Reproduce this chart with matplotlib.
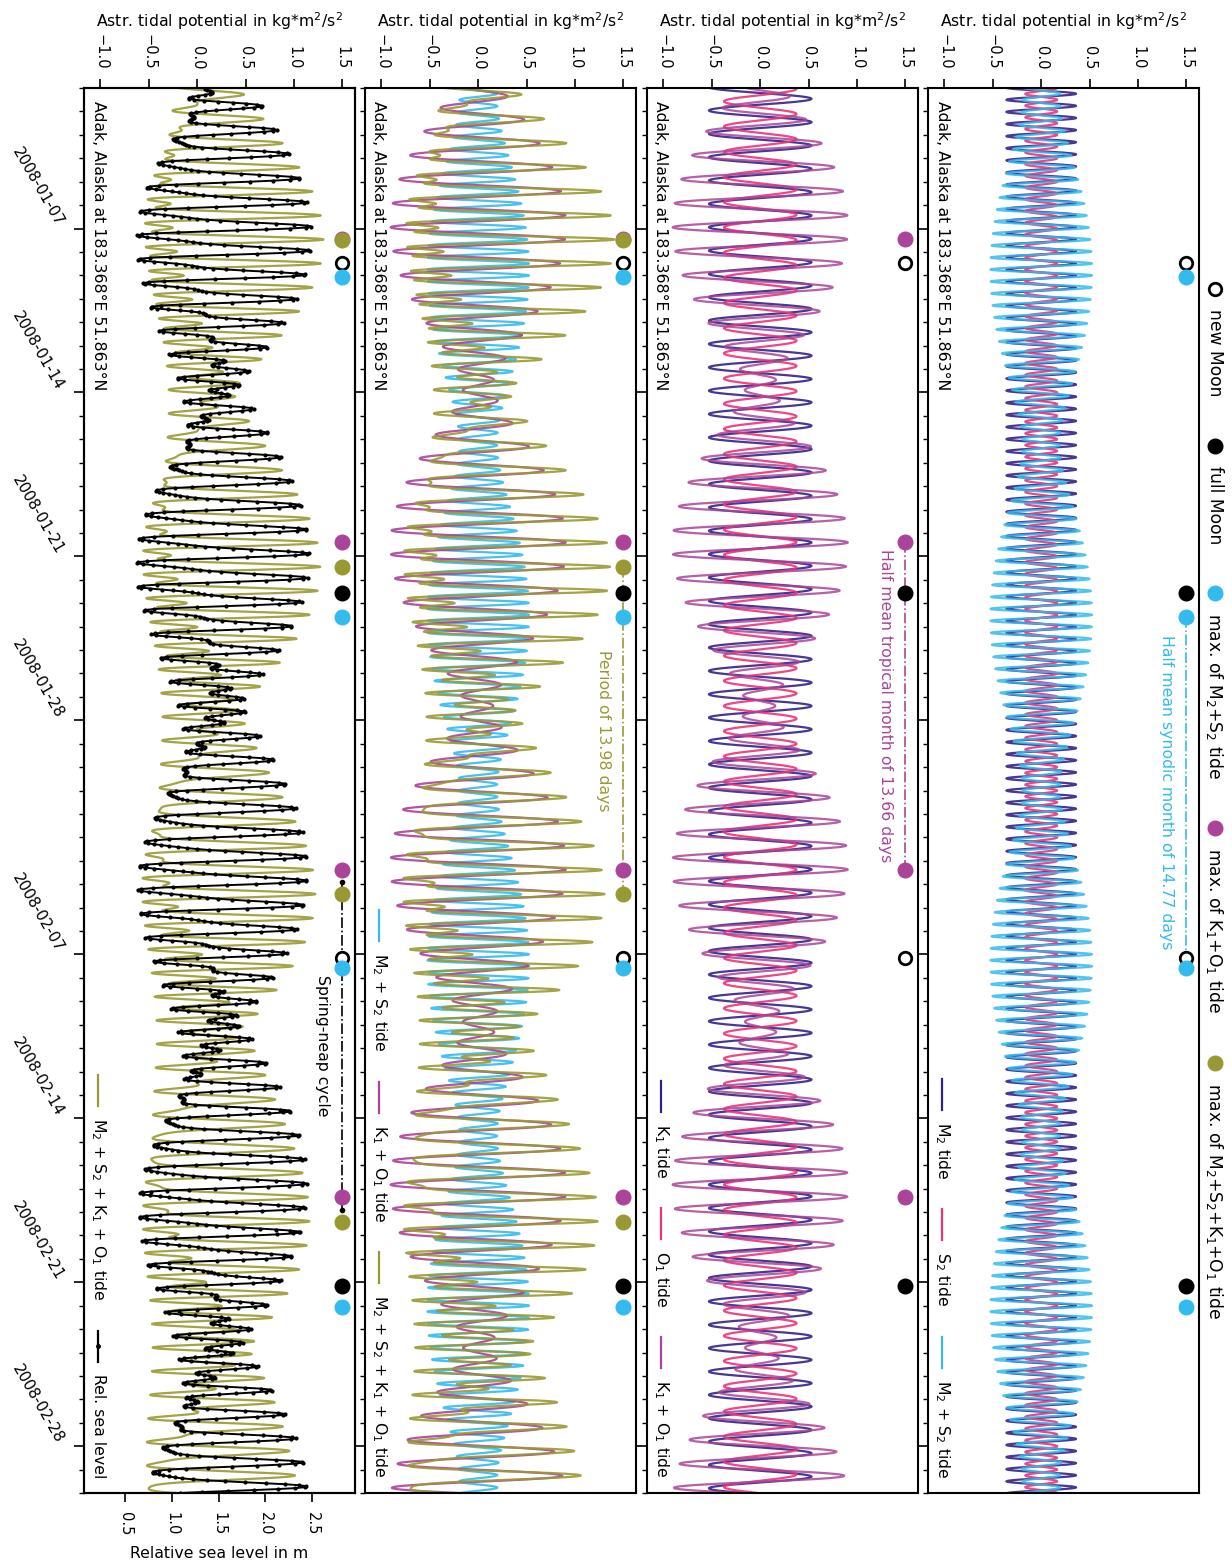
import numpy as np
import matplotlib
matplotlib.use('Agg')
import matplotlib.pyplot as plt
import matplotlib.dates as mdates

plt.rcParams['font.family'] = 'DejaVu Sans'
plt.rcParams['font.size'] = 11
plt.rcParams['axes.linewidth'] = 1.5

# partial tides of the astronomical potential at Adak, phase at 2008-01-01 00:00 UTC
tide_names = ['M2', 'S2', 'K1', 'O1']
tide_speed = [28.9841042, 30.0, 15.0410686, 13.9430356]   # deg/h
tide_amp = [0.36, 0.165, 0.53, 0.375]                     # kg*m^2/s^2
tide_phase = [189.3, -0.9, 193.4, 348.3]                  # deg

# tide gauge (hourly): mean level, amplitudes [m] and lags [deg] of the same tides
sea_mean = 1.47
sea_amp = [0.22, 0.05, 0.50, 0.34]
sea_lag = [0.0, 30.0, 155.0, 150.0]
# potential drawn against the sea level axis in the last panel
pot_on_sea_offset = 1.375
pot_on_sea_scale = 0.89

start = np.datetime64('2008-01-01T00:00')
end = np.datetime64('2008-03-01T00:00')

new_moon = ['2008-01-08T11:37', '2008-02-07T03:44']
full_moon = ['2008-01-22T13:35', '2008-02-21T03:30']
max_m2s2 = ['2008-01-09T01:26', '2008-01-23T13:41', '2008-02-07T13:41', '2008-02-22T01:00']
max_k1o1 = ['2008-01-07T10:48', '2008-01-20T09:22', '2008-02-03T09:22', '2008-02-17T08:10']
max_all = ['2008-01-07T11:45', '2008-01-21T10:48', '2008-02-04T10:19', '2008-02-18T10:05']
spring_neap = ['2008-02-03T21:36', '2008-02-17T21:36']

c_m2 = '#332288'
c_s2 = '#EE3377'
c_m2s2 = '#33BBEE'
c_k1o1 = '#AA4499'
c_all = '#999933'

station = 'Adak, Alaska at 183.368°E 51.863°N'
pot_label = 'Astr. tidal potential in kg*m$^2$/s$^2$'


def to_times(hours):
    return start + np.round(hours * 60).astype('int64').astype('timedelta64[m]')


def partial(h, i, amp=None, lag=0.0):
    a = tide_amp[i] if amp is None else amp
    return a * np.cos(np.radians(tide_speed[i] * h + tide_phase[i] - lag))


hours = np.arange(0, 60 * 24 + 1e-9, 1 / 6)
times = to_times(hours)
m2 = partial(hours, 0)
s2 = partial(hours, 1)
k1 = partial(hours, 2)
o1 = partial(hours, 3)
m2s2 = m2 + s2
k1o1 = k1 + o1
total = m2s2 + k1o1

sea_hours = np.arange(0, 60 * 24 + 1, 1.0)
sea_times = to_times(sea_hours)
sea = sea_mean + sum(partial(sea_hours, i, sea_amp[i], sea_lag[i]) for i in range(4))

W, H = 1232, 1562
fig = plt.figure(figsize=(W / 100, H / 100), dpi=100)
top_px, bot_px, wid_px = 88, 1493, 271
lefts = [928, 647, 365, 84]

axes = [fig.add_axes([lx / W, 1 - bot_px / H, wid_px / W, (bot_px - top_px) / H]) for lx in lefts]
ax1, ax2, ax3, ax4 = axes
ax4b = ax4.twiny()

for i, ax in enumerate(axes):
    ax.set_xlim(-1.17, 1.63)
    ax.set_ylim(end, start)
    ax.xaxis.tick_top()
    ax.xaxis.set_label_position('top')
    ax.set_xticks([-1.0, -0.5, 0.0, 0.5, 1.0, 1.5])
    ax.tick_params(axis='x', direction='out', length=6.5, width=1.2, pad=7, labelrotation=-90,
                   top=True, bottom=False, labelsize=10.5)
    ax.set_xlabel(pot_label, labelpad=5, fontsize=11.3)
    ax.yaxis.set_major_locator(mdates.DayLocator(bymonthday=[7, 14, 21, 28]))
    ax.yaxis.set_minor_locator(mdates.DayLocator())
    ax.tick_params(axis='y', which='major', direction='out', length=7, width=1.2, left=True, right=False)
    ax.tick_params(axis='y', which='minor', direction='out', length=3.5, width=1.0, left=True, right=False)
    if i < 3:
        ax.tick_params(axis='y', labelleft=False)

ax4.yaxis.set_major_formatter(mdates.DateFormatter('%Y-%m-%d'))
ax4.tick_params(axis='y', which='major', pad=6, labelsize=11)
for lab in ax4.get_yticklabels():
    lab.set_rotation(-60)
    lab.set_ha('right')
    lab.set_va('bottom')

ax4b.set_xlim(0.06, 2.96)
ax4b.xaxis.tick_bottom()
ax4b.xaxis.set_label_position('bottom')
ax4b.set_xticks([0.5, 1.0, 1.5, 2.0, 2.5])
ax4b.tick_params(axis='x', direction='out', length=6.5, width=1.2, pad=7, labelrotation=-90,
                 top=False, bottom=True, labelsize=10.5)
ax4b.set_xlabel('Relative sea level in m', labelpad=8, fontsize=11.3)

lw = 1.6
ax1.plot(m2, times, color=c_m2, lw=lw, alpha=0.9)
ax1.plot(s2, times, color=c_s2, lw=lw, alpha=0.9)
ax1.plot(m2s2, times, color=c_m2s2, lw=lw, alpha=0.85)

ax2.plot(k1, times, color=c_m2, lw=lw, alpha=0.9)
ax2.plot(o1, times, color=c_s2, lw=lw, alpha=0.9)
ax2.plot(k1o1, times, color=c_k1o1, lw=lw, alpha=0.85)

ax3.plot(m2s2, times, color=c_m2s2, lw=lw, alpha=0.9)
ax3.plot(k1o1, times, color=c_k1o1, lw=lw, alpha=0.9)
ax3.plot(total, times, color=c_all, lw=lw, alpha=0.9)

ax4b.plot(pot_on_sea_offset + pot_on_sea_scale * total, times, color=c_all, lw=lw, alpha=0.9)
ax4b.plot(sea, sea_times, color='k', lw=1.4, marker='.', ms=4)

mk_new = dict(marker='o', ls='none', mfc='white', mec='k', mew=2, ms=9)
mk_full = dict(marker='o', ls='none', color='k', ms=10.5)
mk_m2s2 = dict(marker='o', ls='none', color=c_m2s2, ms=10.5)
mk_k1o1 = dict(marker='o', ls='none', color=c_k1o1, ms=10.5)
mk_all = dict(marker='o', ls='none', color=c_all, ms=10.5)


def dates(lst):
    return np.array(lst, dtype='datetime64[m]')


def events(ax, groups):
    for lst, kw in groups:
        d = dates(lst)
        ax.plot(np.full(len(d), 1.5), d, zorder=5, **kw)


def period(ax, lst, color, label, dots=False):
    d = dates(lst)
    ax.plot([1.5, 1.5], d, color=color, ls='-.', lw=1.2, marker='.' if dots else None, ms=6, zorder=4)
    mid = d[0] + (d[1] - d[0]) / 2
    ax.annotate(label, xy=(1.5, mid), xytext=(-14.5, 0), textcoords='offset points', rotation=-90,
                rotation_mode='anchor', ha='center', va='center', color=color, fontsize=11.3)


period(ax1, max_m2s2[1:3], c_m2s2, 'Half mean synodic month of 14.77 days')
events(ax1, [(new_moon, mk_new), (full_moon, mk_full), (max_m2s2, mk_m2s2)])

period(ax2, max_k1o1[1:3], c_k1o1, 'Half mean tropical month of 13.66 days')
events(ax2, [(new_moon, mk_new), (full_moon, mk_full), (max_k1o1, mk_k1o1)])

period(ax3, max_all[1:3], c_all, 'Period of 13.98 days')
events(ax3, [(new_moon, mk_new), (full_moon, mk_full), (max_m2s2, mk_m2s2),
             (max_k1o1, mk_k1o1), (max_all, mk_all)])

period(ax4, spring_neap, 'k', 'Spring-neap cycle', dots=True)
events(ax4, [(new_moon, mk_new), (full_moon, mk_full), (max_m2s2, mk_m2s2),
             (max_k1o1, mk_k1o1), (max_all, mk_all)])

# overlay in pixel units for the rotated legends and station labels
over = fig.add_axes([0, 0, 1, 1], zorder=10)
over.set_xlim(0, W)
over.set_ylim(H, 0)
over.axis('off')
over.patch.set_alpha(0)
renderer = fig.canvas.get_renderer()


def text_len(t):
    return t.get_window_extent(renderer=renderer).height


def panel_legend(x, y_end, entries):
    y = y_end
    for label, color, dot in reversed(entries):
        t = over.text(x, y, label, rotation=-90, rotation_mode='anchor', ha='right', va='center',
                      fontsize=11.3)
        y -= text_len(t) + 12
        over.plot([x, x], [y - 31, y], color=color, lw=1.6)
        if dot:
            over.plot(x, y - 15.5, '.', color=color, ms=5)
        y -= 31 + 30


for lx in lefts:
    over.text(lx + 14, 101, station, rotation=-90, rotation_mode='anchor', ha='left', va='center',
              fontsize=11.3)

panel_legend(lefts[0] + 14, 1478, [('M$_2$ tide', c_m2, False), ('S$_2$ tide', c_s2, False),
                                   ('M$_2$ + S$_2$ tide', c_m2s2, False)])
panel_legend(lefts[1] + 14, 1478, [('K$_1$ tide', c_m2, False), ('O$_1$ tide', c_s2, False),
                                   ('K$_1$ + O$_1$ tide', c_k1o1, False)])
panel_legend(lefts[2] + 14, 1478, [('M$_2$ + S$_2$ tide', c_m2s2, False),
                                   ('K$_1$ + O$_1$ tide', c_k1o1, False),
                                   ('M$_2$ + S$_2$ + K$_1$ + O$_1$ tide', c_all, False)])
panel_legend(lefts[3] + 14, 1478, [('M$_2$ + S$_2$ + K$_1$ + O$_1$ tide', c_all, False),
                                   ('Rel. sea level', 'k', True)])

marker_legend = [('new Moon', mk_new), ('full Moon', mk_full),
                 ('max. of M$_2$+S$_2$ tide', mk_m2s2), ('max. of K$_1$+O$_1$ tide', mk_k1o1),
                 ('max. of M$_2$+S$_2$+K$_1$+O$_1$ tide', mk_all)]
y = 289
for label, kw in marker_legend:
    over.plot(1215, y, **kw)
    t = over.text(1215, y + 20, label, rotation=-90, rotation_mode='anchor', ha='left', va='center',
                  fontsize=12.3)
    y += 20 + text_len(t) + 49

fig.savefig('out.png', dpi=100)
